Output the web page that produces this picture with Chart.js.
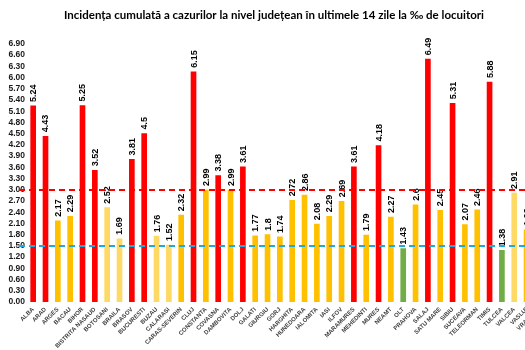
<!DOCTYPE html>
<html>
<head>
<meta charset="utf-8">
<script src="https://cdn.jsdelivr.net/npm/chart.js@4"></script>
<style>
  html, body { margin: 0; padding: 0; overflow: hidden; background: #fff; }
  #wrap { width: 548px; height: 350px; }
</style>
</head>
<body>
<div id="wrap"><canvas id="incidenta" width="548" height="350"></canvas></div>
<script>
// judete si incidenta (la mia de locuitori)
const judete = ['ALBA', 'ARAD', 'ARGES', 'BACAU', 'BIHOR', 'BISTRITA NASAUD', 'BOTOSANI', 'BRAILA',
  'BRASOV', 'BUCURESTI', 'BUZAU', 'CALARASI', 'CARAS-SEVERIN', 'CLUJ', 'CONSTANTA', 'COVASNA',
  'DAMBOVITA', 'DOLJ', 'GALATI', 'GIURGIU', 'GORJ', 'HARGHITA', 'HUNEDOARA', 'IALOMITA', 'IASI',
  'ILFOV', 'MARAMURES', 'MEHEDINTI', 'MURES', 'NEAMT', 'OLT', 'PRAHOVA', 'SALAJ', 'SATU MARE',
  'SIBIU', 'SUCEAVA', 'TELEORMAN', 'TIMIS', 'TULCEA', 'VALCEA', 'VASLUI', 'VRANCEA']
const incidenta = [5.24, 4.43, 2.17, 2.29, 5.25, 3.52, 2.52, 1.69,
  3.81, 4.5, 1.76, 1.52, 2.32, 6.15, 2.99, 3.38,
  2.99, 3.61, 1.77, 1.8, 1.74, 2.72, 2.86, 2.08, 2.29,
  2.69, 3.61, 1.79, 4.18, 2.27, 1.43, 2.6, 6.49, 2.45,
  5.31, 2.07, 2.46, 5.88, 1.38, 2.91, 1.93, 2.5]
// judete marcate cu galben deschis in original
const judeteDeschise = ['BOTOSANI', 'BRAILA', 'BUZAU', 'CALARASI', 'VALCEA']
// praguri
const pragRosu = 3
const pragVerde = 1.5
const yMax = 6.9
const yPas = 0.3

//culoare in functie de prag
const culoare = (v, i) => {
  if (v > pragRosu) return '#ff0000'
  if (v < pragVerde) return '#70ad47'
  if (judeteDeschise.includes(judete[i])) return '#ffd966'
  return '#ffc000'
}

//etichete verticale deasupra barelor
const eticheteBare = {
  id: 'eticheteBare',
  afterDatasetsDraw(chart) {
    const ctx = chart.ctx
    const meta = chart.getDatasetMeta(0)
    ctx.save()
    ctx.font = 'bold 9px "Liberation Sans", Arial, sans-serif'
    ctx.fillStyle = '#000'
    ctx.textAlign = 'left'
    ctx.textBaseline = 'middle'
    meta.data.forEach((bar, i) => {
      ctx.save()
      ctx.translate(bar.x + 0.5, bar.y - 4)
      ctx.rotate(-Math.PI / 2)
      ctx.fillText(String(incidenta[i]), 0, 0)
      ctx.restore()
    })
    ctx.restore()
  }
}

//linii punctate de prag
const liniiPrag = {
  id: 'liniiPrag',
  afterDraw(chart) {
    const ctx = chart.ctx
    const y = chart.scales.y
    const linii = [[pragRosu, '#ff0000'], [pragVerde, '#1fa9dc']]
    ctx.save()
    ctx.lineWidth = 2
    ctx.setLineDash([6, 4])
    linii.forEach(([v, c]) => {
      const py = Math.round(y.getPixelForValue(v))
      ctx.strokeStyle = c
      ctx.beginPath()
      ctx.moveTo(19, py)
      ctx.lineTo(chart.width, py)
      ctx.stroke()
    })
    ctx.restore()
  }
}

const config = {
  type: 'bar',
  data: {
    labels: judete,
    datasets: [{
      data: incidenta,
      backgroundColor: incidenta.map(culoare),
      barThickness: 5
    }]
  },
  options: {
    responsive: false,
    animation: false,
    layout: { padding: 0 },
    plugins: {
      legend: { display: false },
      tooltip: { enabled: false },
      title: {
        display: true,
        text: 'Incidența cumulată a cazurilor la nivel județean în ultimele 14 zile la ‰ de locuitori',
        color: '#000',
        font: { family: 'Lato, "Open Sans", sans-serif', size: 11.5, weight: 'bold' },
        padding: { top: 8, bottom: 22 }
      }
    },
    scales: {
      x: {
        grid: { display: false, drawTicks: false },
        border: { display: false },
        ticks: {
          autoSkip: false,
          minRotation: 45,
          maxRotation: 45,
          color: '#404040',
          padding: 4,
          font: { family: '"Liberation Sans", Arial, sans-serif', size: 6, weight: 'bold' }
        },
        afterFit(scale) { scale.height = 48 }
      },
      y: {
        min: 0,
        max: yMax,
        grid: { display: false, drawTicks: false },
        border: { display: false },
        ticks: {
          autoSkip: false,
          stepSize: yPas,
          color: '#1a1a1a',
          padding: 2,
          font: { family: '"Liberation Sans", Arial, sans-serif', size: 8.5, weight: 'bold' },
          callback: v => v.toFixed(2)
        },
        afterFit(scale) { scale.width = 27 }
      }
    }
  },
  plugins: [eticheteBare, liniiPrag]
}

const grafic = new Chart(document.getElementById('incidenta'), config)
</script>
</body>
</html>
